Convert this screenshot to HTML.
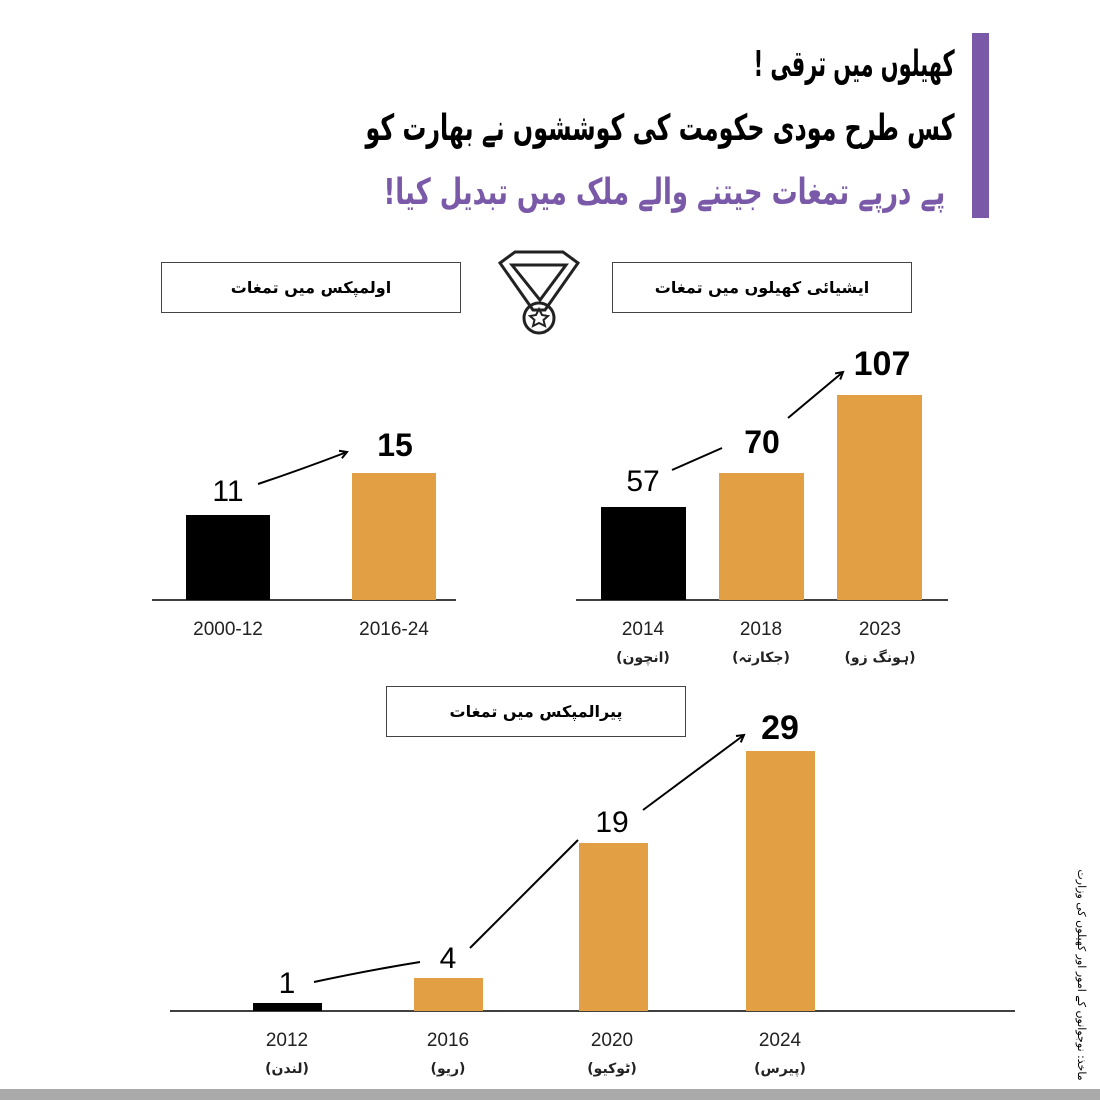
<!DOCTYPE html>
<html><head><meta charset="utf-8"><style>
body{margin:0;width:1100px;height:1100px;background:#fff;position:relative;overflow:hidden;font-family:"Liberation Sans","DejaVu Sans",sans-serif}
.a{position:absolute}
.u{font-family:"DejaVu Sans",sans-serif;direction:rtl;white-space:nowrap;transform-origin:right center}
.box{position:absolute;border:1.5px solid #444;box-sizing:border-box;display:flex;align-items:center;justify-content:center;font-family:"DejaVu Sans",sans-serif;font-size:16px;font-weight:bold;direction:rtl}
</style></head><body>
<div class="a" style="left:972px;top:33px;width:17px;height:185px;background:#7a5aa8"></div>
<div class="a u" style="right:145px;top:44px;font-size:36px;font-weight:bold;transform:scaleX(0.58)">کھیلوں میں ترقی !</div>
<div class="a u" style="right:145px;top:108px;font-size:36px;font-weight:bold;transform:scaleX(0.66)">کس طرح مودی حکومت کی کوششوں نے بھارت کو</div>
<div class="a u" style="right:155px;top:172px;font-size:36px;font-weight:bold;color:#7a5aa8;transform:scaleX(0.72)">پے درپے تمغات جیتنے والے ملک میں تبدیل کیا!</div>
<div class="box" style="left:161px;top:262px;width:300px;height:51px">اولمپکس میں تمغات</div>
<div class="box" style="left:612px;top:262px;width:300px;height:51px">ایشیائی کھیلوں میں تمغات</div>
<div class="box" style="left:386px;top:686px;width:300px;height:51px">پیرالمپکس میں تمغات</div>
<svg class="a" style="left:0;top:0" width="1100" height="1100">
<defs><marker id="m" markerWidth="10" markerHeight="10" refX="8" refY="5" orient="auto" markerUnits="userSpaceOnUse"><path d="M1,1 L8,5 L1,9" fill="none" stroke="#000" stroke-width="2"/></marker></defs>
<g fill="none" stroke="#222" stroke-width="3">
<path d="M500,263 L515,252 L563,252 L578,263 L545,310 L533,310 Z"/>
<path d="M512,265 L566,265 L540,300 Z"/>
<circle cx="539" cy="318" r="15"/>
</g>
<path d="M539,309 l3,6 6,1 -4.5,4 1.5,6 -6,-3 -6,3 1.5,-6 -4.5,-4 6,-1z" fill="none" stroke="#222" stroke-width="2"/>
<g stroke="#000" stroke-width="1.5"><line x1="152" y1="600" x2="456" y2="600"/><line x1="576" y1="600" x2="948" y2="600"/><line x1="170" y1="1011" x2="1015" y2="1011"/></g>
<rect x="186" y="515" width="84" height="85" fill="#000"/>
<rect x="352" y="473" width="84" height="127" fill="#e29f44"/>
<rect x="601" y="507" width="85" height="93" fill="#000"/>
<rect x="719" y="473" width="85" height="127" fill="#e29f44"/>
<rect x="837" y="395" width="85" height="205" fill="#e29f44"/>
<rect x="253" y="1003" width="69" height="8" fill="#000"/>
<rect x="414" y="978" width="69" height="33" fill="#e29f44"/>
<rect x="579" y="843" width="69" height="168" fill="#e29f44"/>
<rect x="746" y="751" width="69" height="260" fill="#e29f44"/>
<g stroke="#000" stroke-width="2" fill="none">
<path d="M258,484 Q300,470 347,452" marker-end="url(#m)"/>
<path d="M672,470 L722,448"/>
<path d="M788,418 L843,372" marker-end="url(#m)"/>
<path d="M314,982 Q370,970 420,962"/>
<path d="M470,948 L578,840"/>
<path d="M643,810 L744,735" marker-end="url(#m)"/>
</g>
<g font-family="Liberation Sans,sans-serif" text-anchor="middle">
<text x="228" y="501" font-size="30">11</text>
<text x="395" y="456" font-size="32" font-weight="bold">15</text>
<text x="643" y="491" font-size="30">57</text>
<text x="762" y="453" font-size="32" font-weight="bold">70</text>
<text x="882" y="375" font-size="34" font-weight="bold">107</text>
<text x="287" y="993" font-size="30">1</text>
<text x="448" y="968" font-size="30">4</text>
<text x="612" y="832" font-size="30">19</text>
<text x="780" y="739" font-size="34" font-weight="bold">29</text>
<g font-size="19" fill="#222">
<text x="228" y="635">2000-12</text><text x="394" y="635">2016-24</text>
<text x="643" y="635">2014</text><text x="761" y="635">2018</text><text x="880" y="635">2023</text>
<text x="287" y="1046">2012</text><text x="448" y="1046">2016</text><text x="612" y="1046">2020</text><text x="780" y="1046">2024</text>
</g>
<g font-family="DejaVu Sans,sans-serif" font-size="14" font-weight="bold" fill="#222">
<text x="643" y="662" direction="rtl">(انچون)</text><text x="761" y="662" direction="rtl">(جکارتہ)</text><text x="880" y="662" direction="rtl">(ہونگ زو)</text>
<text x="287" y="1073" direction="rtl">(لندن)</text><text x="448" y="1073" direction="rtl">(ریو)</text><text x="612" y="1073" direction="rtl">(ٹوکیو)</text><text x="780" y="1073" direction="rtl">(پیرس)</text>
</g>
</g>
<text transform="translate(1078,975) rotate(90)" text-anchor="middle" font-family="DejaVu Sans,sans-serif" font-size="11" direction="rtl">ماخذ: نوجوانوں کے امور اور کھیلوں کی وزارت</text>
<rect x="0" y="1089" width="1100" height="11" fill="#aaa"/>
</svg>
</body></html>
